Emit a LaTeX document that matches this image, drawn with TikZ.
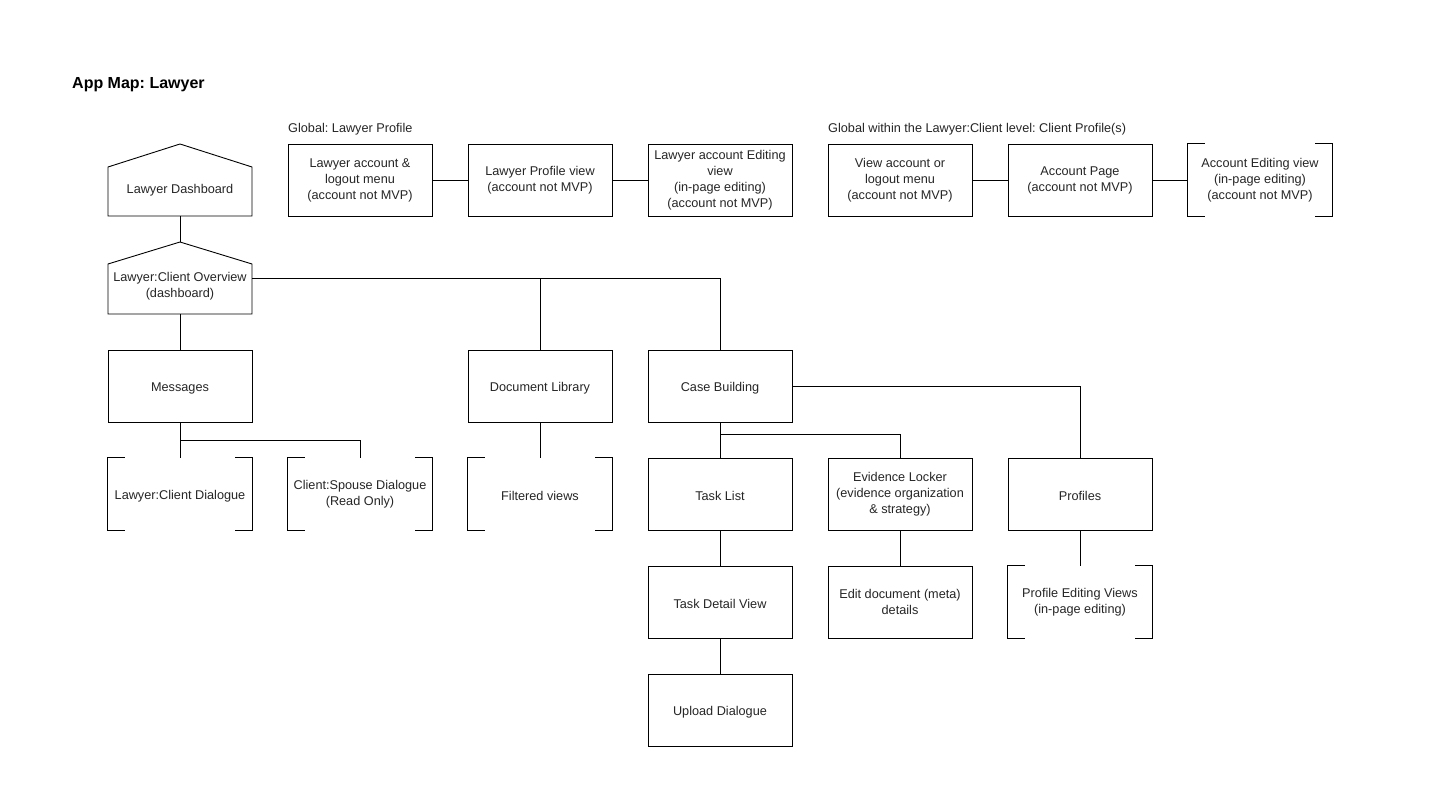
\documentclass[tikz,border=0pt]{standalone}
\usepackage{fontspec}
\setmainfont{Liberation Sans}
\frenchspacing
\newcommand\drawbrk[1]{%
  \draw[ln] ([xshift=17pt]#1.north west) -- (#1.north west) -- (#1.south west) -- ([xshift=17pt]#1.south west);
  \draw[ln] ([xshift=-17pt]#1.north east) -- (#1.north east) -- (#1.south east) -- ([xshift=-17pt]#1.south east);}
\begin{document}
\begin{tikzpicture}[x=1pt,y=-1pt,
  ln/.style={line width=0.9pt, line join=miter},
  box/.style={draw, ln, minimum width=144pt, minimum height=72pt, align=center, inner sep=0pt, text=black!85, font=\fontsize{12.7}{16}\selectfont, execute at begin node={\rule{0pt}{13pt}}},
  plainbox/.style={box, draw=none},
  head/.style={anchor=base west, inner sep=0pt, text=black!85, font=\fontsize{12.7}{16}\selectfont}]
\useasboundingbox (0,0) rectangle (1440,810);
\fill[white] (0,0) rectangle (1440,810);

\node[anchor=base west, inner sep=0pt, font=\bfseries\fontsize{16}{19}\selectfont] (title) at (72,89) {App Map: Lawyer};
\node[head] (g1) at (288,133) {Global: Lawyer Profile};
\node[head] (g2) at (828,133) {Global within the Lawyer:Client level: Client Profile(s)};

% house shapes
\draw[ln] (108,167) -- (180,144) -- (252,167) -- (252,216) -- (108,216) -- cycle;
\node[plainbox, minimum height=56pt] (dash) at (180,188) {Lawyer Dashboard};
\draw[ln] (108,264) -- (180,242) -- (252,264) -- (252,314) -- (108,314) -- cycle;
\coordinate (ovapex) at (180,242);
\node[plainbox, minimum height=56pt] (ov) at (180,286) {Lawyer:Client Overview\\(dashboard)};

% top row
\node[box] (lam) at (360,180) {Lawyer account \&\\logout menu\\(account not MVP)};
\node[box] (lpv) at (540,180) {Lawyer Profile view\\(account not MVP)};
\node[box] (lae) at (720,180) {Lawyer account Editing\\view\\(in-page editing)\\(account not MVP)};
\node[box] (vao) at (900,180) {View account or\\logout menu\\(account not MVP)};
\node[box] (ap) at (1080,180) {Account Page\\(account not MVP)};
\node[plainbox] (aev) at (1260,180) {Account Editing view\\(in-page editing)\\(account not MVP)};

% row 3
\node[box] (msg) at (180,386) {Messages};
\node[box] (doc) at (540,386) {Document Library};
\node[box] (case) at (720,386) {Case Building};

% row 4
\node[plainbox] (lcd) at (180,494) {Lawyer:Client Dialogue};
\node[plainbox] (csd) at (360,494) {Client:Spouse Dialogue\\(Read Only)};
\node[plainbox] (filt) at (540,494) {Filtered views};
\node[box] (task) at (720,494) {Task List};
\node[box] (evid) at (900,494) {Evidence Locker\\(evidence organization\\\& strategy)};
\node[box] (prof) at (1080,494) {Profiles};

% row 5
\node[box] (tdv) at (720,602) {Task Detail View};
\node[box] (edit) at (900,602) {Edit document (meta)\\details};
\node[plainbox] (pev) at (1080,602) {Profile Editing Views\\(in-page editing)};

% row 6
\node[box] (upl) at (720,710) {Upload Dialogue};

% brackets
\drawbrk{aev}
\drawbrk{lcd}
\drawbrk{csd}
\drawbrk{filt}
\drawbrk{pev}

% connectors
\draw[ln] (lam.east) -- (lpv.west);
\draw[ln] (lpv.east) -- (lae.west);
\draw[ln] (vao.east) -- (ap.west);
\draw[ln] (ap.east) -- (aev.west);
\draw[ln] (dash.south) -- (ovapex);
\draw[ln] ([yshift=8pt]ov.east) -| (doc.north);
\draw[ln] ([yshift=8pt]ov.east) -| (case.north);
\draw[ln] (ov.south) -- (msg.north);
\draw[ln] (msg.south) -- (lcd.north);
\draw[ln] (msg.south) -- ++(0,18) -| (csd.north);
\draw[ln] (doc.south) -- (filt.north);
\draw[ln] (case.south) -- (task.north);
\draw[ln] (case.south) -- ++(0,12) -| (evid.north);
\draw[ln] (case.east) -| (prof.north);
\draw[ln] (task.south) -- (tdv.north);
\draw[ln] (tdv.south) -- (upl.north);
\draw[ln] (evid.south) -- (edit.north);
\draw[ln] (prof.south) -- (pev.north);
\end{tikzpicture}
\end{document}
